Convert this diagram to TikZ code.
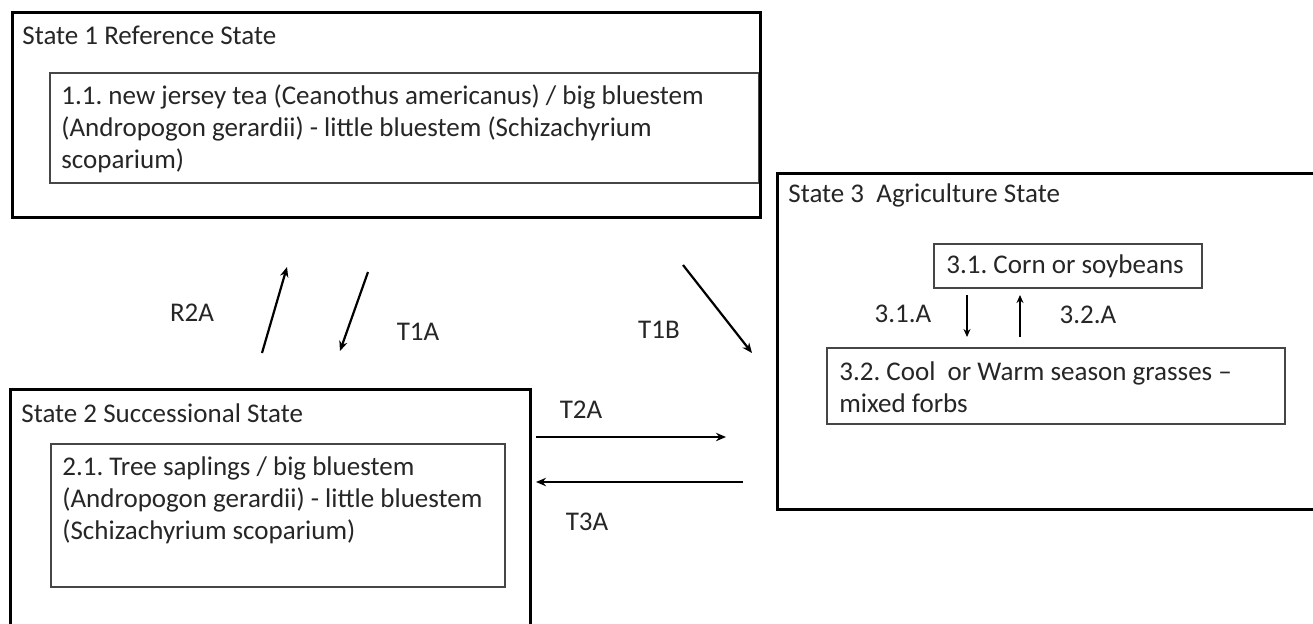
\documentclass[tikz,border=0pt]{standalone}
\usepackage{fontspec}
\setmainfont{Carlito}
\usepackage{tikz}
\usetikzlibrary{arrows.meta,positioning}
\frenchspacing
\definecolor{stgray}{RGB}{70,70,70}
\definecolor{sttext}{RGB}{38,38,38}
\tikzstyle{arrow} = [line width=1.1pt,-{Stealth[length=5pt,width=4.2pt]},color=black]
\tikzstyle{smallarrow} = [line width=0.8pt,-{Stealth[length=4pt,width=3.5pt]},color=black]
\tikzstyle{statebox} = [rectangle, anchor=north west, inner sep=0pt, outer sep=0pt, draw=black, line width=1.5pt]
\tikzstyle{phasebox} = [rectangle, anchor=north west, inner sep=0pt, outer sep=0pt, draw=stgray, line width=0.6pt]
\tikzstyle{boxtext} = [anchor=west, align=left, inner sep=0pt, text=sttext, font=\fontsize{13.5}{16}\selectfont]
\tikzstyle{arrowlabel} = [inner sep=0pt, text=sttext, font=\fontsize{13.5}{16}\selectfont]

\begin{document}
\begin{tikzpicture}[x=0.5pt,y=-0.5pt]
\clip (0,0) rectangle (1313,623);
\fill[white] (0,0) rectangle (1313,623);

% State 1
\node[phasebox, minimum width=354.5pt, minimum height=55pt] (p11) at (50,73) {};
\node[statebox, minimum width=374pt, minimum height=102.5pt] (s1) at (12,12) {};
\node[boxtext] (s1title) at (22,35) {State 1 Reference State};
\node[boxtext] (p11text) at (61,128.5) {1.1. new jersey tea (Ceanothus americanus) / big bluestem\\(Andropogon gerardii) - little bluestem (Schizachyrium\\scoparium)};

% State 2
\node[phasebox, minimum width=227pt, minimum height=71.5pt] (p21) at (51,444) {};
\node[statebox, minimum width=260pt, minimum height=130.5pt] (s2) at (10,389) {};
\node[boxtext] (s2title) at (21,413) {State 2 Successional State};
\node[boxtext] (p21text) at (62,500.5) {2.1. Tree saplings / big bluestem\\(Andropogon gerardii) - little bluestem\\(Schizachyrium scoparium)};

% State 3
\node[statebox, minimum width=281.5pt, minimum height=168pt] (s3) at (777,173) {};
\node[boxtext] (s3title) at (788,195) {State 3\ \ Agriculture State};
\node[phasebox, minimum width=134pt, minimum height=22pt] (p31) at (934,244) {};
\node[boxtext] (p31text) at (946,266) {3.1. Corn or soybeans};
\node[phasebox, minimum width=229pt, minimum height=38pt] (p32) at (827,348) {};
\node[boxtext] (p32text) at (839,387.5) {3.2. Cool\ \ or Warm season grasses –\\mixed forbs};

% Transitions
\coordinate (r2a-s) at (262,353);
\coordinate (r2a-e) at (287,267);
\coordinate (t1a-s) at (368,272);
\coordinate (t1a-e) at (340,351);
\coordinate (t1b-s) at (683,265);
\coordinate (t1b-e) at (752,353);
\coordinate (t2a-s) at (536,437);
\coordinate (t2a-e) at (726,437);
\coordinate (t3a-s) at (743,482);
\coordinate (t3a-e) at (536,482);
\draw[arrow] (r2a-s) -- (r2a-e);
\draw[arrow] (t1a-s) -- (t1a-e);
\draw[arrow] (t1b-s) -- (t1b-e);
\draw[arrow] (t2a-s) -- (t2a-e);
\draw[arrow] (t3a-s) -- (t3a-e);
\node[arrowlabel] (r2a) at (192,313) {R2A};
\node[arrowlabel] (t1a) at (418,332) {T1A};
\node[arrowlabel] (t1b) at (659,330) {T1B};
\node[arrowlabel] (t2a) at (581,410) {T2A};
\node[arrowlabel] (t3a) at (587,522) {T3A};

% Phase transitions
\coordinate (p31a-s) at (967,295);
\coordinate (p31a-e) at (967,337);
\coordinate (p32a-s) at (1020,337);
\coordinate (p32a-e) at (1020,295);
\draw[smallarrow] (p31a-s) -- (p31a-e);
\draw[smallarrow] (p32a-s) -- (p32a-e);
\node[arrowlabel] (p31a) at (903,314) {3.1.A};
\node[arrowlabel] (p32a) at (1088,315) {3.2.A};
\end{tikzpicture}
\end{document}
